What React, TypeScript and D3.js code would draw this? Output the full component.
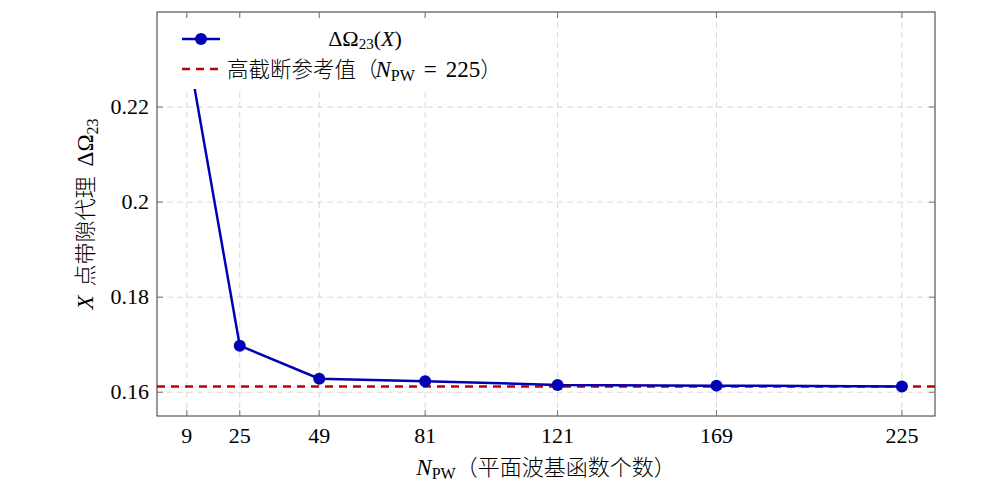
import React from 'react';
import * as d3 from 'd3';

// N_PW values and the band-gap proxy
const npw = [9, 25, 49, 81, 121, 169, 225];
const gapValues = [0.2333, 0.1698, 0.16286, 0.16232, 0.16154, 0.16139, 0.1612];
const referenceValue = 0.1612;
const xTicks = [9, 25, 49, 81, 121, 169, 225];
const yTicks = [0.16, 0.18, 0.2, 0.22];

const W = 998;
const H = 500;
const margin = { top: 12, right: 63, bottom: 84, left: 157 };

const serif = { fontFamily: '"Liberation Serif", "Times New Roman", serif' };
const serifIt = { fontFamily: '"Liberation Serif", "Times New Roman", serif', fontStyle: 'italic' };
const cjk = { fontFamily: '"Noto Sans CJK SC", "Noto Sans", sans-serif', fontWeight: 300 };
const blue = '#0000b4';
const red = '#c00000';

export default function App() {
    const x = d3.scaleLinear().domain([0, 235]).range([margin.left, W - margin.right]);
    const y = d3.scaleLinear().domain([0.155, 0.24]).range([H - margin.bottom, margin.top]);

    const x0 = margin.left;
    const x1 = W - margin.right;
    const y0 = margin.top;
    const y1 = H - margin.bottom;

    const line = d3.line<number>()
        .x((_, i) => x(npw[i]))
        .y(d => y(d));

    const tickLen = 6;

    return (
        <svg width={W} height={H} style={{ position: 'absolute', left: 0, top: 0, background: '#fff' }}>
            <defs>
                <clipPath id="plot-clip">
                    <rect x={x0} y={y0} width={x1 - x0} height={y1 - y0} />
                </clipPath>
            </defs>

            {/* grid */}
            <g stroke="#d8d8d8" strokeWidth={1} strokeDasharray="6,4">
                {xTicks.map(t => (
                    <line key={'gx' + t} x1={x(t)} x2={x(t)} y1={y0} y2={y1} />
                ))}
                {yTicks.map(t => (
                    <line key={'gy' + t} x1={x0} x2={x1} y1={y(t)} y2={y(t)} />
                ))}
            </g>

            <g clipPath="url(#plot-clip)">
                {/* reference line */}
                <line x1={x0} x2={x1} y1={y(referenceValue)} y2={y(referenceValue)}
                    stroke={red} strokeWidth={2.5} strokeDasharray="8,6" />
                {/* data line */}
                <path d={line(gapValues) || ''} fill="none" stroke={blue} strokeWidth={2.5} />
                {gapValues.map((v, i) => (
                    <circle key={i} cx={x(npw[i])} cy={y(v)} r={6} fill={blue} />
                ))}
            </g>

            {/* legend */}
            <g>
                <rect x={170} y={20} width={345} height={69} fill="#fff" />
                <line x1={182} x2={220} y1={39} y2={39} stroke={blue} strokeWidth={2.5} />
                <circle cx={201} cy={39} r={6} fill={blue} />
                <text x={365} y={46} textAnchor="middle" fontSize={22} style={serif}>
                    ΔΩ<tspan fontSize={15} dy={3}>23</tspan><tspan dy={-3}>(</tspan><tspan style={serifIt}>X</tspan>)
                </text>
                <line x1={182} x2={218} y1={69} y2={69} stroke={red} strokeWidth={2.5} strokeDasharray="8,6" />
                <text x={227} y={77} fontSize={21.5}>
                    <tspan style={cjk}>高截断参考值（</tspan>
                    <tspan style={serifIt} fontSize={23} dx={-2}>N</tspan>
                    <tspan style={serif} fontSize={16} dy={4}>PW</tspan>
                    <tspan style={serif} fontSize={23} dy={-4} dx={9}>=</tspan>
                    <tspan style={serif} fontSize={23} dx={9}>225</tspan>
                    <tspan style={cjk}>）</tspan>
                </text>
            </g>

            {/* frame */}
            <rect x={x0} y={y0} width={x1 - x0} height={y1 - y0} fill="none" stroke="#333" strokeWidth={1} />

            {/* ticks */}
            <g stroke="#777" strokeWidth={1}>
                {xTicks.map(t => (
                    <g key={'tx' + t}>
                        <line x1={x(t)} x2={x(t)} y1={y1} y2={y1 - tickLen} />
                        <line x1={x(t)} x2={x(t)} y1={y0} y2={y0 + tickLen} />
                    </g>
                ))}
                {yTicks.map(t => (
                    <g key={'ty' + t}>
                        <line x1={x0} x2={x0 + tickLen} y1={y(t)} y2={y(t)} />
                        <line x1={x1} x2={x1 - tickLen} y1={y(t)} y2={y(t)} />
                    </g>
                ))}
            </g>

            {/* tick labels */}
            <g fontSize={22} fill="#000" style={serif}>
                {xTicks.map(t => (
                    <text key={'lx' + t} x={x(t)} y={y1 + 27} textAnchor="middle">{t}</text>
                ))}
                {yTicks.map(t => (
                    <text key={'ly' + t} x={x0 - 8} y={y(t) + 7} textAnchor="end">{String(t)}</text>
                ))}
            </g>

            {/* axis labels */}
            <text x={(x0 + x1) / 2} y={475} textAnchor="middle" fontSize={22}>
                <tspan style={serifIt} fontSize={23}>N</tspan>
                <tspan style={serif} fontSize={16} dy={4}>PW</tspan>
                <tspan style={cjk} dy={-4}>（平面波基函数个数）</tspan>
            </text>
            <text transform={`translate(93,${(y0 + y1) / 2}) rotate(-90)`} textAnchor="middle" fontSize={22}>
                <tspan style={serifIt} fontSize={23}>X</tspan>
                <tspan style={cjk} dx={9}>点带隙代理</tspan>
                <tspan style={serif} fontSize={23} dx={10}>ΔΩ</tspan>
                <tspan style={serif} fontSize={16} dy={5}>23</tspan>
            </text>
        </svg>
    );
}
